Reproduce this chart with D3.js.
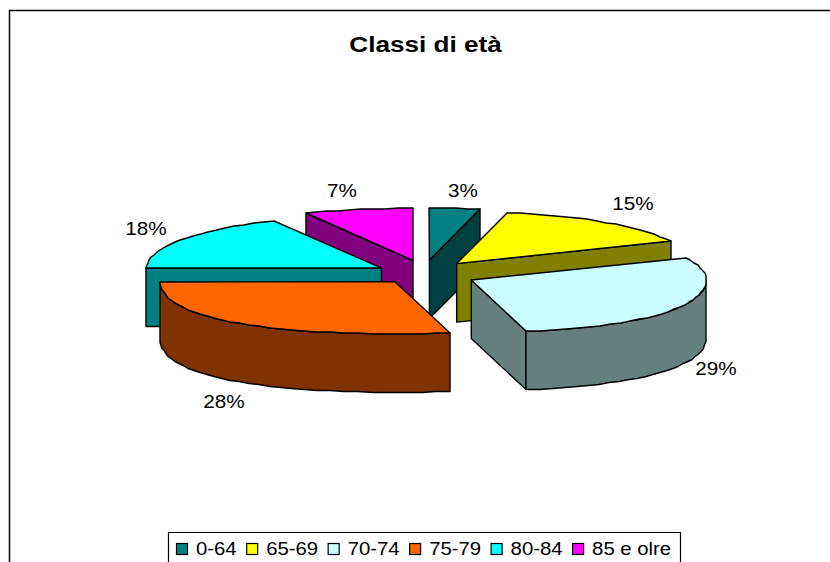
<!DOCTYPE html>
<html>
<head>
<meta charset="utf-8">
<style>
html,body{margin:0;padding:0;background:#fff;overflow:hidden}
svg{display:block}
text{font-family:"Liberation Sans",Arial,sans-serif;fill:#000}
</style>
<script src="https://cdn.jsdelivr.net/npm/d3@7"></script>
</head>
<body>
<svg id="chart" width="830" height="562"></svg>
<script>
const chartTitle = "Classi di età";
const categories = ["0-64","65-69","70-74","75-79","80-84","85 e olre"];
const values = [3,15,29,28,18,7];
const topColors = ["#008080","#ffff00","#ccffff","#ff6600","#00ffff","#ff00ff"];
const sideColors = ["#004040","#808000","#668080","#803300","#008080","#800080"];
// painter's order, back to front
const drawOrder = [0,5,4,1,3,2];

const W = 830, H = 562;
const svg = d3.select("#chart");

// frame
svg.append("path").attr("d", `M9.5,${H+5}V10.5H${W+5}`)
   .attr("fill","none").attr("stroke","#000").attr("stroke-width",1.5);

// title
svg.append("text").text(chartTitle)
   .attr("transform","translate(425.5,52) scale(1.216,1)")
   .attr("text-anchor","middle").attr("font-size",21.5).attr("font-weight","bold");

// projection (slightly non-linear, like the perspective of the original)
const cx = 425, cy = 272.5, depth = 58.5;
const rX = d3.scaleLinear().domain([-1,1]).range([-235,235]);
const rY = d3.scaleLinear().domain([-1,1]).range([-52,52]);
const exX = d3.scaleLinear().domain([-1,-.844,-.637,-.218,1]).range([-53,-43.5,-30,-12,52]);
const exY = d3.scaleLinear().domain([-1,-.536,.454,1]).range([-12.5,-4.5,7.5,10.5]);
const sgnPow = (v,p) => Math.sign(v)*Math.pow(Math.abs(v),p);

const pie = d3.pie().sort(null).value(d => d)(values);
const line = d3.line();

function centerOf(a){
  const m = (a.startAngle + a.endAngle)/2;
  return [cx + exX(Math.sin(m)), cy + exY(-Math.cos(m))];
}
function rim(c,t){
  const k = Math.max(0,-Math.cos(t));
  const near = 1 + 0.1*k*k;
  return [Math.round(c[0] + rX(sgnPow(Math.sin(t),0.92))*near),
          Math.round(c[1] + rY(-Math.cos(t)))];
}
function arcPts(c,a0,a1){
  const n = Math.max(1,Math.ceil((a1-a0)/(Math.PI/60)));
  return d3.range(n+1).map(i => rim(c, a0+(a1-a0)*i/n));
}
const down = (p) => [p[0], p[1]+depth];
const closed = pts => line(pts)+"Z";

const g = svg.append("g").attr("stroke","#000").attr("stroke-width",1.4).attr("stroke-linejoin","round");
drawOrder.forEach(i => {
  const a = pie[i], c = centerOf(a);
  const s = a.startAngle, e = a.endAngle;
  const side = (d) => g.append("path").attr("d",d).attr("fill",sideColors[i]);
  // radial cut faces that look towards the viewer
  if (Math.sin(e) > 1e-6) { const p = rim(c,e); side(closed([c,p,down(p),down(c)])); }
  if (Math.sin(s) < -1e-6) { const p = rim(c,s); side(closed([c,p,down(p),down(c)])); }
  // outer wall, front half only
  const f0 = Math.max(s,Math.PI/2), f1 = Math.min(e,3*Math.PI/2);
  if (f1 > f0) {
    const up = arcPts(c,f0,f1);
    side(closed(up.concat(up.slice().reverse().map(down))));
  }
  // top
  g.append("path").attr("d",closed([c].concat(arcPts(c,s,e)))).attr("fill",topColors[i]);
});

// percentage labels
const labelAnchors = [[463,197],[633,210],[716,375],[224,408],[146,235],[342,197]];
const total = d3.sum(values);
svg.append("g").selectAll("text").data(values).join("text")
   .text(d => d3.format(".0%")(d/total))
   .attr("transform",(d,i)=>`translate(${labelAnchors[i][0]},${labelAnchors[i][1]}) scale(1.15,1)`)
   .attr("text-anchor","middle").attr("font-size",18);

// legend
const legend = svg.append("g");
legend.append("path").attr("d",`M168.5,${H+5}V532.5H680.5V${H+5}`)
   .attr("fill","none").attr("stroke","#000").attr("stroke-width",1.2);
let lx = 176;
categories.forEach((name,i) => {
  legend.append("rect").attr("x",lx+.5).attr("y",543.5).attr("width",11).attr("height",11)
    .attr("fill",topColors[i]).attr("stroke","#000").attr("stroke-width",1.2);
  const t = legend.append("text").text(name)
    .attr("transform",`translate(${lx+20},555) scale(1.13,1)`).attr("font-size",18);
  lx += 20 + t.node().getComputedTextLength()*1.13 + 9.5;
});
</script>
</body>
</html>
